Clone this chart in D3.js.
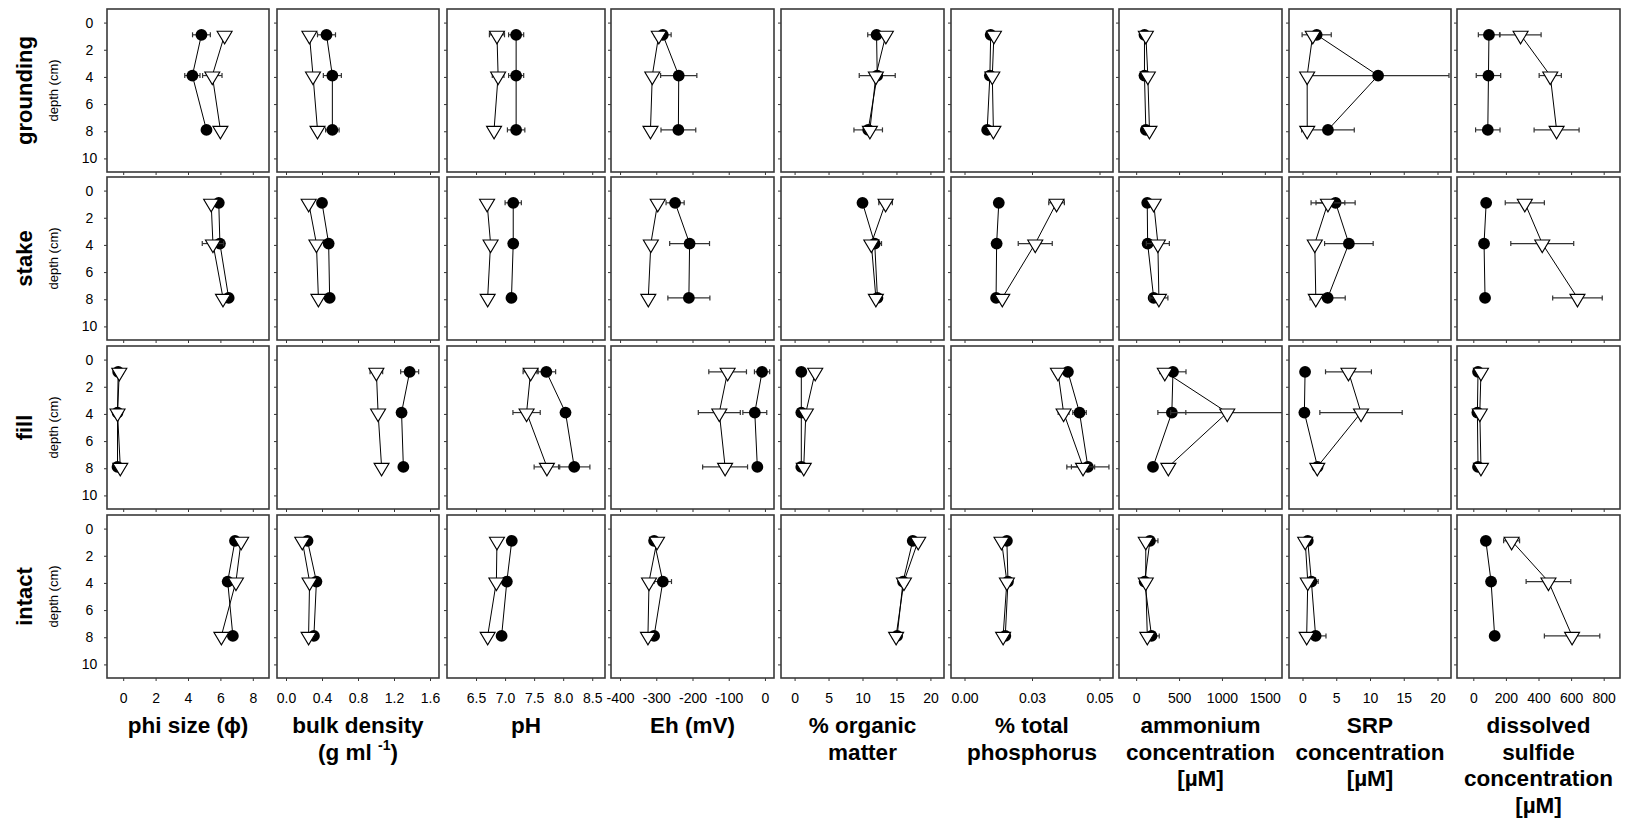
<!DOCTYPE html>
<html>
<head>
<meta charset="utf-8">
<script src="https://cdn.jsdelivr.net/npm/d3@7"></script>
<style>
  body { margin: 0; background: #fff; }
  svg text { font-family: "Liberation Sans", Arial, sans-serif; fill: #000; }
</style>
</head>
<body>
<svg id="chart" width="1625" height="822"></svg>
<script>
// sites (rows) and sampling depths (cm)
const sites = ['grounding', 'stake', 'fill', 'intact']
const depths = [0.9, 3.9, 7.9]
const depthTicks = [0, 2, 4, 6, 8, 10]

// variables (columns)
const variables = ['phi', 'bulk', 'pH', 'Eh', 'om', 'tp', 'nh4', 'srp', 'sulfide']
const axisTitles = [
  ['phi size (\u03d5)'],
  ['bulk density', '(g ml|-1|)'],
  ['pH'],
  ['Eh (mV)'],
  ['% organic', 'matter'],
  ['% total', 'phosphorus'],
  ['ammonium', 'concentration', '[\u00b5M]'],
  ['SRP', 'concentration', '[\u00b5M]'],
  ['dissolved', 'sulfide', 'concentration', '[\u00b5M]']
]
const xDomains = [[-1, 9], [-0.1, 1.7], [6.0, 8.72], [-425, 25], [-2, 22], [-0.005, 0.055], [-200, 1700], [-2, 22], [-100, 900]]
const xTicks = [
  [0, 2, 4, 6, 8],
  [0, 0.4, 0.8, 1.2, 1.6],
  [6.5, 7, 7.5, 8, 8.5],
  [-400, -300, -200, -100, 0],
  [0, 5, 10, 15, 20],
  [0, 0.025, 0.05],
  [0, 500, 1000, 1500],
  [0, 5, 10, 15, 20],
  [0, 200, 400, 600, 800]
]
const xTickLabels = [
  ['0', '2', '4', '6', '8'],
  ['0.0', '0.4', '0.8', '1.2', '1.6'],
  ['6.5', '7.0', '7.5', '8.0', '8.5'],
  ['-400', '-300', '-200', '-100', '0'],
  ['0', '5', '10', '15', '20'],
  ['0.00', '0.03', '0.05'],
  ['0', '500', '1000', '1500'],
  ['0', '5', '10', '15', '20'],
  ['0', '200', '400', '600', '800']
]

// values per site [grounding, stake, fill, intact], each at the 3 depths
// filled = black circles, open = white triangles, SE = error bar half width
const phiFilled = [[4.83, 4.27, 5.14], [5.90, 5.97, 6.51], [-0.31, -0.35, -0.35], [6.90, 6.45, 6.77]]
const phiFilledSE = [[0.55, 0.47, 0], [0, 0, 0], [0, 0, 0], [0, 0, 0]]
const phiOpen = [[6.26, 5.50, 6.00], [5.43, 5.54, 6.16], [-0.24, -0.35, -0.18], [7.28, 6.96, 6.06]]
const phiOpenSE = [[0, 0.6, 0], [0, 0.66, 0], [0, 0, 0], [0, 0, 0]]

const bulkFilled = [[0.45, 0.515, 0.515], [0.40, 0.474, 0.485], [1.374, 1.284, 1.304], [0.239, 0.338, 0.31]]
const bulkFilledSE = [[0.1, 0.1, 0.075], [0, 0, 0], [0.1, 0, 0], [0, 0, 0]]
const bulkOpen = [[0.26, 0.30, 0.35], [0.252, 0.338, 0.36], [1.004, 1.023, 1.062], [0.181, 0.262, 0.251]]
const bulkOpenSE = [[0, 0, 0], [0, 0, 0], [0.07, 0, 0], [0, 0, 0]]

const pHFilled = [[7.19, 7.19, 7.19], [7.14, 7.14, 7.11], [7.71, 8.04, 8.19], [7.115, 7.03, 6.94]]
const pHFilledSE = [[0.13, 0.13, 0.15], [0.14, 0, 0], [0.16, 0, 0.27], [0, 0, 0]]
const pHOpen = [[6.86, 6.88, 6.81], [6.69, 6.75, 6.70], [7.44, 7.37, 7.72], [6.86, 6.85, 6.70]]
const pHOpenSE = [[0.13, 0.1, 0], [0, 0, 0], [0.13, 0.235, 0.22], [0, 0, 0]]

const ehFilled = [[-282, -238, -239], [-248, -208, -210], [-8, -28, -21], [-306, -282, -306]]
const ehFilledSE = [[23, 50, 48], [25, 55, 58], [21, 33, 0], [0, 24, 0]]
const ehOpen = [[-293, -311, -316], [-296, -315, -322], [-103, -126, -110], [-298, -320, -323]]
const ehOpenSE = [[0, 0, 0], [0, 0, 0], [52, 58, 62], [0, 0, 0]]

const omFilled = [[12.07, 12.17, 10.84], [10.0, 11.8, 12.2], [0.99, 0.99, 0.99], [17.4, 15.97, 15.1]]
const omFilledSE = [[1.3, 2.65, 2.1], [0, 1.0, 0], [0, 0, 0], [0, 0, 0]]
const omOpen = [[13.44, 11.97, 11.09], [13.4, 11.3, 11.97], [3.04, 1.66, 1.35], [18.2, 16.1, 14.95]]
const omOpenSE = [[0, 0, 0], [1.0, 0, 0], [0, 0, 0], [0, 0, 0]]

const tpFilled = [[0.0097, 0.0094, 0.0084], [0.0127, 0.0119, 0.0117], [0.0383, 0.0426, 0.0457], [0.0157, 0.0161, 0.0151]]
const tpFilledSE = [[0, 0, 0], [0, 0, 0], [0.0015, 0.0025, 0.0078], [0, 0, 0]]
const tpOpen = [[0.0109, 0.0103, 0.0107], [0.0341, 0.0262, 0.014], [0.0346, 0.0367, 0.0439], [0.0137, 0.0157, 0.0143]]
const tpOpenSE = [[0, 0, 0], [0.0029, 0.0063, 0], [0.0015, 0.002, 0.0043], [0, 0, 0]]

const nh4Filled = [[97, 97, 113], [129, 134, 204], [429, 416, 196], [161, 99, 179]]
const nh4FilledSE = [[0, 0, 0], [0, 0, 0], [152, 163, 0], [93, 0, 90]]
const nh4Open = [[113, 136, 155], [204, 253, 265], [334, 1062, 375], [112, 112, 130]]
const nh4OpenSE = [[0, 0, 0], [0, 134, 105], [0, 660, 0], [0, 0, 0]]

const srpFilled = [[2.1, 11.2, 3.77], [4.9, 6.87, 3.73], [0.38, 0.28, 2.23], [0.78, 1.32, 1.94]]
const srpFilledSE = [[2.16, 10.5, 3.9], [2.9, 3.6, 2.6], [0, 0, 0], [0, 1.0, 1.54]]
const srpOpen = [[1.52, 0.69, 0.70], [3.77, 1.82, 1.97], [6.81, 8.67, 2.19], [0.4, 0.78, 0.62]]
const srpOpenSE = [[0, 0, 0], [2.5, 0, 0], [3.4, 6.1, 0], [0, 0, 0]]

const sulfideFilled = [[96, 93, 89], [79, 66, 72], [29, 25, 29], [77, 109, 131]]
const sulfideFilledSE = [[65, 75, 75], [0, 0, 0], [0, 0, 0], [0, 0, 0]]
const sulfideOpen = [[290, 472, 511], [316, 423, 639], [47, 40, 47], [235, 461, 606]]
const sulfideOpenSE = [[126, 68, 138], [120, 193, 152], [0, 0, 0], [49, 137, 170]]

// table for the drawing loop
const table = {
  phi: { filled: phiFilled, filledSE: phiFilledSE, open: phiOpen, openSE: phiOpenSE },
  bulk: { filled: bulkFilled, filledSE: bulkFilledSE, open: bulkOpen, openSE: bulkOpenSE },
  pH: { filled: pHFilled, filledSE: pHFilledSE, open: pHOpen, openSE: pHOpenSE },
  Eh: { filled: ehFilled, filledSE: ehFilledSE, open: ehOpen, openSE: ehOpenSE },
  om: { filled: omFilled, filledSE: omFilledSE, open: omOpen, openSE: omOpenSE },
  tp: { filled: tpFilled, filledSE: tpFilledSE, open: tpOpen, openSE: tpOpenSE },
  nh4: { filled: nh4Filled, filledSE: nh4FilledSE, open: nh4Open, openSE: nh4OpenSE },
  srp: { filled: srpFilled, filledSE: srpFilledSE, open: srpOpen, openSE: srpOpenSE },
  sulfide: { filled: sulfideFilled, filledSE: sulfideFilledSE, open: sulfideOpen, openSE: sulfideOpenSE }
}

// layout of the panel grid
const colLeft = [107, 277, 447, 611, 781, 951, 1119, 1289, 1457]
const colRight = [269, 439, 605, 774, 944, 1113, 1282, 1451, 1620]
const rowTop = [9, 177, 346, 515]
const panelH = 163

const svg = d3.select('#chart')

// down pointing triangle as a d3 symbol type
const triDown = {
  draw(ctx) {
    ctx.moveTo(-7.5, -3.5)
    ctx.lineTo(7.5, -3.5)
    ctx.lineTo(0, 9)
    ctx.closePath()
  }
}

sites.forEach((site, r) => {
  const top = rowTop[r]
  const bottom = top + panelH
  const y = d3.scaleLinear().domain([-1, 11]).range([top, bottom])

  variables.forEach((v, c) => {
    const x = d3.scaleLinear().domain(xDomains[c]).range([colLeft[c], colRight[c]])
    const g = svg.append('g')
    const clipId = `clip-${r}-${c}`

    g.append('clipPath').attr('id', clipId)
      .append('rect')
      .attr('x', colLeft[c]).attr('y', top)
      .attr('width', colRight[c] - colLeft[c]).attr('height', panelH)

    // left ticks
    const yAxis = g.append('g')
      .attr('transform', `translate(${colLeft[c]},0)`)
      .call(d3.axisLeft(y).tickValues(depthTicks).tickSize(3).tickFormat(c == 0 ? d => d : ''))
    yAxis.select('.domain').remove()
    yAxis.selectAll('line').attr('stroke', '#333')
    yAxis.selectAll('text')
      .attr('text-anchor', 'middle')
      .attr('x', 89.5 - colLeft[c])
      .style('font-size', '14px')

    // bottom ticks
    const xAxis = g.append('g')
      .attr('transform', `translate(0,${bottom})`)
      .call(d3.axisBottom(x).tickValues(xTicks[c]).tickSize(3)
        .tickFormat((d, i) => r == 3 ? xTickLabels[c][i] : ''))
    xAxis.select('.domain').remove()
    xAxis.selectAll('line').attr('stroke', '#333')
    xAxis.selectAll('text').attr('y', 15.5).style('font-size', '14px')

    const plot = g.append('g').attr('clip-path', `url(#${clipId})`)

    const series = [
      { vals: table[v].filled[r], errs: table[v].filledSE[r], type: 'filled' },
      { vals: table[v].open[r], errs: table[v].openSE[r], type: 'open' }
    ]

    series.forEach(s => {
      const pts = depths.map((d, i) => ({ d: d, v: s.vals[i], e: s.errs[i] }))

      // connecting line
      plot.append('path')
        .datum(pts)
        .attr('fill', 'none')
        .attr('stroke', '#000')
        .attr('stroke-width', 1)
        .attr('d', d3.line().x(p => x(p.v)).y(p => y(p.d)))

      // horizontal error bars
      const eb = plot.append('g').attr('stroke', '#333').attr('stroke-width', 1.2)
      pts.filter(p => p.e > 0).forEach(p => {
        const x0 = x(p.v - p.e), x1 = x(p.v + p.e), yy = y(p.d)
        eb.append('line').attr('x1', x0).attr('x2', x1).attr('y1', yy).attr('y2', yy)
        eb.append('line').attr('x1', x0).attr('x2', x0).attr('y1', yy - 2.5).attr('y2', yy + 2.5)
        eb.append('line').attr('x1', x1).attr('x2', x1).attr('y1', yy - 2.5).attr('y2', yy + 2.5)
      })

      // markers
      if (s.type == 'filled') {
        plot.selectAll(null)
          .data(pts)
          .enter()
          .append('circle')
          .attr('cx', p => x(p.v))
          .attr('cy', p => y(p.d))
          .attr('r', 5.9)
          .attr('fill', '#000')
      } else {
        plot.selectAll(null)
          .data(pts)
          .enter()
          .append('path')
          .attr('d', d3.symbol().type(triDown))
          .attr('transform', p => `translate(${x(p.v)},${y(p.d)})`)
          .attr('fill', '#fff')
          .attr('stroke', '#000')
          .attr('stroke-width', 1.1)
      }
    })

    // panel frame
    g.append('rect')
      .attr('x', colLeft[c]).attr('y', top)
      .attr('width', colRight[c] - colLeft[c]).attr('height', panelH)
      .attr('fill', 'none')
      .attr('stroke', '#3a3a3a')
      .attr('stroke-width', 1.6)
  })

  // row labels
  const cy = (top + bottom) / 2
  svg.append('text')
    .attr('transform', `translate(32,${cy}) rotate(-90)`)
    .attr('text-anchor', 'middle')
    .style('font-size', '22px')
    .style('font-weight', 'bold')
    .text(site)
  svg.append('text')
    .attr('transform', `translate(58,${cy}) rotate(-90)`)
    .attr('text-anchor', 'middle')
    .style('font-size', '13px')
    .text('depth (cm)')
})

// column titles under the last row
axisTitles.forEach((lines, c) => {
  const cx = (colLeft[c] + colRight[c]) / 2
  lines.forEach((line, i) => {
    const t = svg.append('text')
      .attr('x', cx)
      .attr('y', 733 + i * 26.7)
      .attr('text-anchor', 'middle')
      .style('font-size', '22.5px')
      .style('font-weight', 'bold')
    // a|b|c means b is a superscript
    const parts = line.split('|')
    if (parts.length == 3) {
      t.append('tspan').text(parts[0] + ' ')
      t.append('tspan').attr('dy', -10).style('font-size', '14px').text(parts[1])
      t.append('tspan').attr('dy', 10).text(parts[2])
    } else {
      t.text(line)
    }
  })
})
</script>
</body>
</html>
